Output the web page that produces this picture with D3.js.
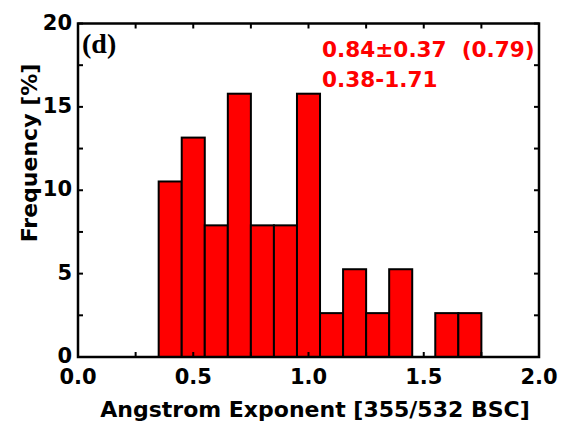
<!DOCTYPE html>
<html>
<head>
<meta charset="utf-8">
<script src="https://cdn.jsdelivr.net/npm/d3@7"></script>
<style>
  html, body { margin: 0; padding: 0; background: #fff; }
  svg { display: block; }
</style>
</head>
<body>
<script>
// Histogram bins (lower edge, upper edge) and frequencies in percent
const binStart = [0.35, 0.45, 0.55, 0.65, 0.75, 0.85, 0.95, 1.05, 1.15, 1.25, 1.35, 1.45, 1.55, 1.65];
const binWidth = 0.1;
const counts = [4, 5, 3, 6, 3, 3, 6, 1, 2, 1, 2, 0, 1, 1];
const total = 38;
const freq = counts.map(c => c / total * 100);

const xTicks = [0.0, 0.5, 1.0, 1.5, 2.0];
const xMinorTicks = [0.25, 0.75, 1.25, 1.75];
const yTicks = [0, 5, 10, 15, 20];
const yMinorTicks = [2.5, 7.5, 12.5, 17.5];

const panelLabel = "(d)";
const statsLine1 = "0.84\u00B10.37  (0.79)";
const statsLine2 = "0.38-1.71";
const xTitle = "Angstrom Exponent [355/532 BSC]";
const yTitle = "Frequency [%]";

const W = 567, H = 430;
const m = { left: 78, right: 28, top: 23.5, bottom: 73 };

const svg = d3.select("body").append("svg").attr("width", W).attr("height", H);

const x = d3.scaleLinear().domain([0, 2]).range([m.left, W - m.right]);
const y = d3.scaleLinear().domain([0, 20]).range([H - m.bottom, m.top]);

const font = "'DejaVu Sans', 'Noto Sans', sans-serif";

// Bars
svg.append("g").selectAll("rect")
  .data(binStart.map((s, i) => ({ s, f: freq[i] })).filter(d => d.f > 0))
  .join("rect")
  .attr("x", d => x(d.s))
  .attr("y", d => y(d.f))
  .attr("width", d => x(d.s + binWidth) - x(d.s))
  .attr("height", d => y(0) - y(d.f))
  .attr("fill", "#ff0000")
  .attr("stroke", "#000")
  .attr("stroke-width", 2);

// Inward ticks on all four sides
const tickLen = 5;
const ticks = svg.append("g").attr("stroke", "#000").attr("stroke-width", 2);
const allX = xTicks.concat(xMinorTicks);
const allY = yTicks.concat(yMinorTicks);
allX.forEach(v => {
  ticks.append("line").attr("x1", x(v)).attr("x2", x(v)).attr("y1", y(0)).attr("y2", y(0) - tickLen);
  ticks.append("line").attr("x1", x(v)).attr("x2", x(v)).attr("y1", y(20)).attr("y2", y(20) + tickLen);
});
allY.forEach(v => {
  ticks.append("line").attr("y1", y(v)).attr("y2", y(v)).attr("x1", x(0)).attr("x2", x(0) + tickLen);
  ticks.append("line").attr("y1", y(v)).attr("y2", y(v)).attr("x1", x(2)).attr("x2", x(2) - tickLen);
});

// Frame
svg.append("rect")
  .attr("x", x(0)).attr("y", y(20))
  .attr("width", x(2) - x(0)).attr("height", y(0) - y(20))
  .attr("fill", "none").attr("stroke", "#000").attr("stroke-width", 2.5);

// Tick labels
svg.append("g").selectAll("text").data(xTicks).join("text")
  .attr("x", d => x(d)).attr("y", y(0) + 27)
  .attr("text-anchor", "middle")
  .attr("font-family", font).attr("font-weight", "bold").attr("font-size", 21)
  .text(d => d.toFixed(1));

svg.append("g").selectAll("text").data(yTicks).join("text")
  .attr("x", x(0) - 6).attr("y", d => y(d) + 6)
  .attr("text-anchor", "end")
  .attr("font-family", font).attr("font-weight", "bold").attr("font-size", 21)
  .text(d => d);

// Axis titles
svg.append("text")
  .attr("x", 315).attr("y", 417)
  .attr("text-anchor", "middle")
  .attr("font-family", font).attr("font-weight", "bold").attr("font-size", 22)
  .text(xTitle);

svg.append("text")
  .attr("transform", "translate(37,153) rotate(-90)")
  .attr("text-anchor", "middle")
  .attr("font-family", font).attr("font-weight", "bold").attr("font-size", 22)
  .text(yTitle);

// Panel label
svg.append("text")
  .attr("x", 82).attr("y", 53)
  .attr("font-family", "'Liberation Serif', 'Times New Roman', serif")
  .attr("font-weight", "bold").attr("font-size", 28)
  .text(panelLabel);

// Statistics annotation
const stats = svg.append("g")
  .attr("font-family", font).attr("font-weight", "bold").attr("font-size", 21.6)
  .attr("fill", "#ff0000");
stats.append("text").attr("x", 322).attr("y", 57).style("white-space", "pre").text(statsLine1);
stats.append("text").attr("x", 322).attr("y", 87).text(statsLine2);
</script>
</body>
</html>
